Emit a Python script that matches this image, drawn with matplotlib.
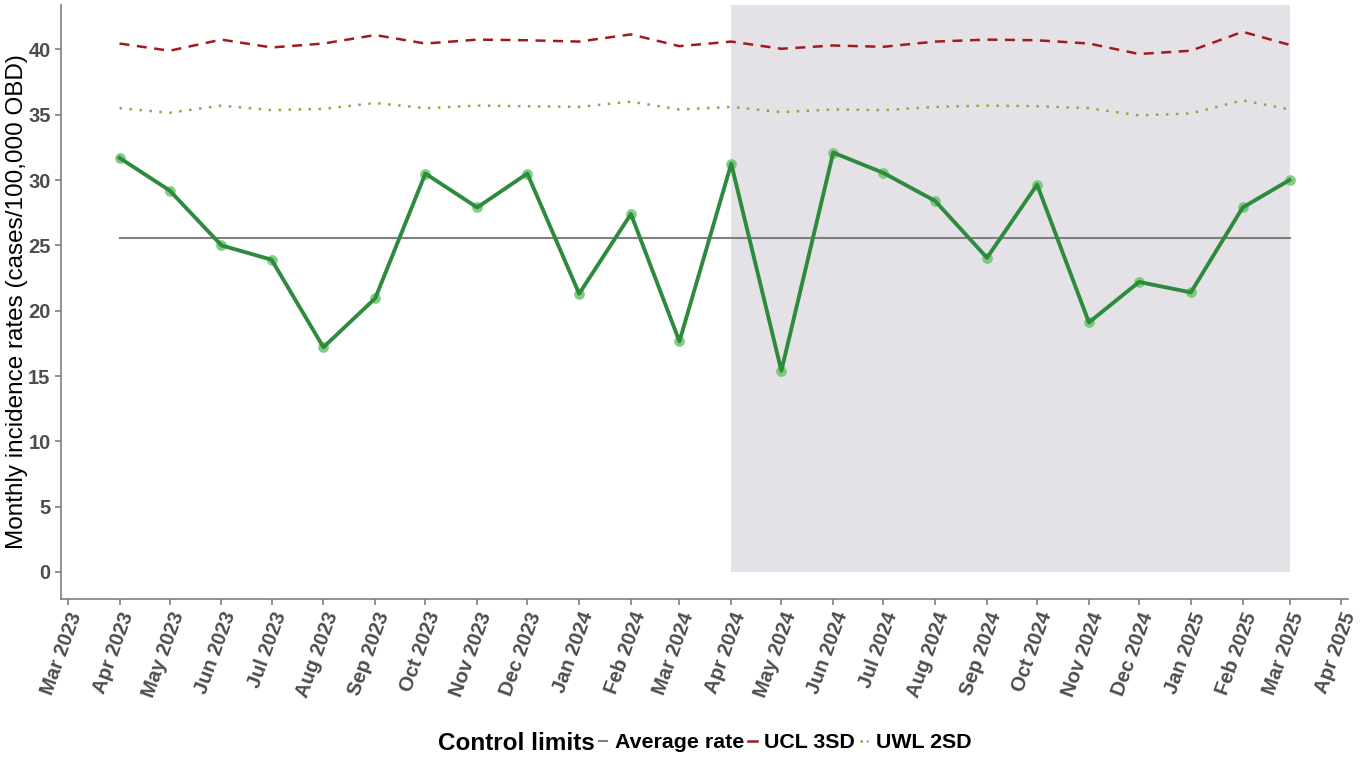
import matplotlib.pyplot as plt
import matplotlib.dates as mdates
from matplotlib.lines import Line2D
from matplotlib.offsetbox import HPacker
import numpy as np
import pandas as pd

plt.rcParams['font.family'] = ['Liberation Sans', 'DejaVu Sans']

# monthly data, Apr 2023 - Mar 2025
months = pd.date_range('2023-04-01', '2025-03-01', freq='MS')
rate = [31.7, 29.2, 25.0, 23.9, 17.2, 20.95, 30.5, 27.9, 30.5, 21.3, 27.4, 17.65,
        31.25, 15.4, 32.1, 30.55, 28.4, 24.05, 29.65, 19.1, 22.2, 21.4, 27.9, 30.0]
ucl = [40.45, 39.9, 40.75, 40.15, 40.45, 41.1, 40.45, 40.75, 40.7, 40.6, 41.15, 40.25,
       40.6, 40.05, 40.3, 40.2, 40.6, 40.75, 40.7, 40.45, 39.65, 39.9, 41.35, 40.35]
uwl = [35.5, 35.15, 35.7, 35.35, 35.45, 35.9, 35.5, 35.7, 35.65, 35.6, 36.0, 35.4,
       35.6, 35.2, 35.4, 35.35, 35.6, 35.7, 35.65, 35.5, 34.95, 35.1, 36.1, 35.4]
avg_rate = 25.58

shade_start = pd.Timestamp('2024-04-01')
shade_end = pd.Timestamp('2025-03-01')

fig = plt.figure(figsize=(13.65, 7.58), dpi=100)
ax = fig.add_axes([61 / 1365, 1 - 599 / 758, (1348 - 61) / 1365, (599 - 5) / 758])

ax.fill_between([shade_start, shade_end], 0, 43.4, color='#e4e2e6', lw=0, zorder=0)

ax.plot(months, ucl, color='#a11a1f', lw=1.8, ls=(0, (4, 3)), zorder=2)
ax.plot(months, uwl, color='#8fa845', lw=1.8, ls=(0, (1, 3)), zorder=2)
ax.plot([months[0], months[-1]], [avg_rate, avg_rate], color='#7f7f7f', lw=1.5, zorder=2)
ax.scatter(months, rate, s=60, color='#66c266', alpha=0.8, lw=0, zorder=3)
ax.plot(months, rate, color='#2e8b3e', lw=2.8, zorder=4)

ax.set_xlim(pd.Timestamp('2023-02-25'), pd.Timestamp('2025-04-05'))
ax.set_ylim(-2.07, 43.4)

ax.xaxis.set_major_locator(mdates.MonthLocator())
ax.xaxis.set_major_formatter(mdates.DateFormatter('%b %Y'))
ax.set_yticks(np.arange(0, 41, 5))

for lbl in ax.get_xticklabels():
    lbl.set_rotation(70)
    lbl.set_ha('right')
    lbl.set_rotation_mode('anchor')
ax.tick_params(axis='both', colors='#7f7f7f', length=4, width=1.2, labelsize=14.5,
               labelcolor='#4d4d4d')
for lbl in ax.get_xticklabels() + ax.get_yticklabels():
    lbl.set_fontweight('bold')

for s in ['top', 'right']:
    ax.spines[s].set_visible(False)
for s in ['left', 'bottom']:
    ax.spines[s].set_color('#7f7f7f')
    ax.spines[s].set_linewidth(1.2)

ax.set_ylabel('Monthly incidence rates (cases/100,000 OBD)', fontsize=17.5, color='black', labelpad=0)

handles = [
    Line2D([], [], color='#7f7f7f', lw=1.5),
    Line2D([], [], color='#a11a1f', lw=1.8),
    Line2D([], [], color='#8fa845', lw=1.8, ls=(0, (1, 1.5))),
]
# legend centred under the panel, not the figure
leg = fig.legend(handles, ['Average rate', 'UCL 3SD', 'UWL 2SD'], loc='center',
                 bbox_to_anchor=(704.5 / 1365, 1 - 743 / 758), ncol=3, frameon=False,
                 handlelength=0.4, handletextpad=0.35, columnspacing=0.2,
                 title='Control limits', prop={'size': 15.4, 'weight': 'bold'},
                 title_fontproperties={'size': 17.5, 'weight': 'bold'})
# put title inline with entries
box = leg._legend_box
box._children = [HPacker(children=box._children, pad=0, sep=3, align='center')]

fig.savefig('out.png', dpi=100)
